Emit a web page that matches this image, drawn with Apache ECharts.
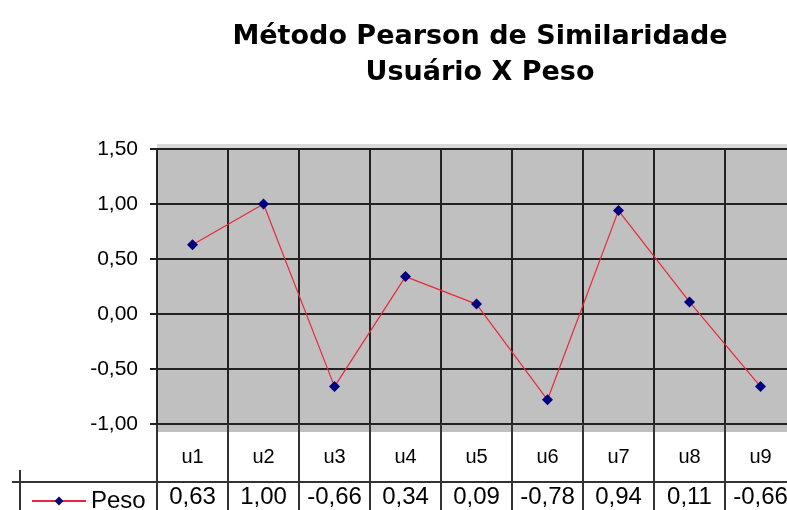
<!DOCTYPE html>
<html>
<head>
<meta charset="utf-8">
<script src="https://cdn.jsdelivr.net/npm/echarts@6/dist/echarts.min.js"></script>
<style>
  html, body { margin: 0; padding: 0; background: #fff; }
  #main { width: 787px; height: 510px; }
</style>
</head>
<body>
<div id="main"></div>
<script>
// dados
const usuarios = ['u1', 'u2', 'u3', 'u4', 'u5', 'u6', 'u7', 'u8', 'u9'];
const peso = [0.63, 1.00, -0.66, 0.34, 0.09, -0.78, 0.94, 0.11, -0.66];
const serieNome = 'Peso';

const fmt = v => v.toFixed(2).replace('.', ',');
const fonte = 'Liberation Sans, Arial';

const chart = echarts.init(document.getElementById('main'));
const option = {
  backgroundColor: '#fff',
  animation: false,
  title: {
    text: 'Método Pearson de Similaridade\nUsuário X Peso',
    left: 475,
    textAlign: 'center',
    top: 14,
    textStyle: {
      fontFamily: 'DejaVu Sans',
      fontSize: 27,
      fontWeight: 'bold',
      color: '#000',
      lineHeight: 36
    }
  },
  legend: {
    data: [serieNome],
    left: 26,
    top: 484,
    itemWidth: 54,
    itemHeight: 11,
    itemGap: 6,
    textStyle: { fontFamily: fonte, fontSize: 24, color: '#000' }
  },
  grid: [
    { left: 157, width: 639, top: 149, height: 275, outerBoundsMode: 'none', show: true, backgroundColor: '#c0c0c0', borderWidth: 0 },
    { left: 157, width: 639, top: 424, height: 86, outerBoundsMode: 'none', show: false }
  ],
  xAxis: [{
    type: 'category',
    data: usuarios,
    boundaryGap: true,
    axisLine: { show: true, lineStyle: { color: '#222', width: 2 } },
    axisTick: { show: false },
    splitLine: { show: true, lineStyle: { color: '#222', width: 2 } },
    axisLabel: {
      margin: 13,
      formatter: (value, idx) => '{n|' + value + '}\n{v|' + fmt(peso[idx]) + '}',
      rich: {
        n: { fontFamily: fonte, fontSize: 20, color: '#000', lineHeight: 40 },
        v: { fontFamily: fonte, fontSize: 24, color: '#000', lineHeight: 40 }
      }
    }
  }, {
    type: 'category',
    gridIndex: 1,
    data: usuarios,
    boundaryGap: true,
    axisLine: { show: false },
    axisTick: { show: false },
    axisLabel: { show: false },
    splitLine: { show: true, lineStyle: { color: '#333', width: 2 } }
  }],
  yAxis: [{
    type: 'value',
    min: -1,
    max: 1.5,
    interval: 0.5,
    axisLine: { show: true, lineStyle: { color: '#222', width: 2 } },
    axisTick: { show: true, length: 7, lineStyle: { color: '#222', width: 2 } },
    splitLine: { show: true, lineStyle: { color: '#222', width: 2 } },
    axisLabel: {
      margin: 19,
      fontFamily: fonte,
      fontSize: 21,
      color: '#000',
      formatter: v => fmt(v)
    }
  }, {
    type: 'value',
    gridIndex: 1,
    show: false
  }],
  graphic: [
    { type: 'rect', z: -1, shape: { x: 157, y: 425, width: 640, height: 7 }, style: { fill: '#c0c0c0' } },
    { type: 'rect', z: -1, shape: { x: 157, y: 144, width: 640, height: 5 }, style: { fill: '#d9d9d9' } },
    { type: 'line', shape: { x1: 12, y1: 482, x2: 797, y2: 482 }, style: { stroke: '#333', lineWidth: 2 } },
    { type: 'line', shape: { x1: 20, y1: 470, x2: 20, y2: 510 }, style: { stroke: '#333', lineWidth: 2 } }
  ],
  series: [{
    name: serieNome,
    type: 'line',
    data: peso,
    symbol: 'diamond',
    symbolSize: 11,
    itemStyle: { color: '#000080' },
    lineStyle: { color: '#e8283a', width: 1.2 },
    z: 5
  }]
};
chart.setOption(option);
</script>
</body>
</html>
